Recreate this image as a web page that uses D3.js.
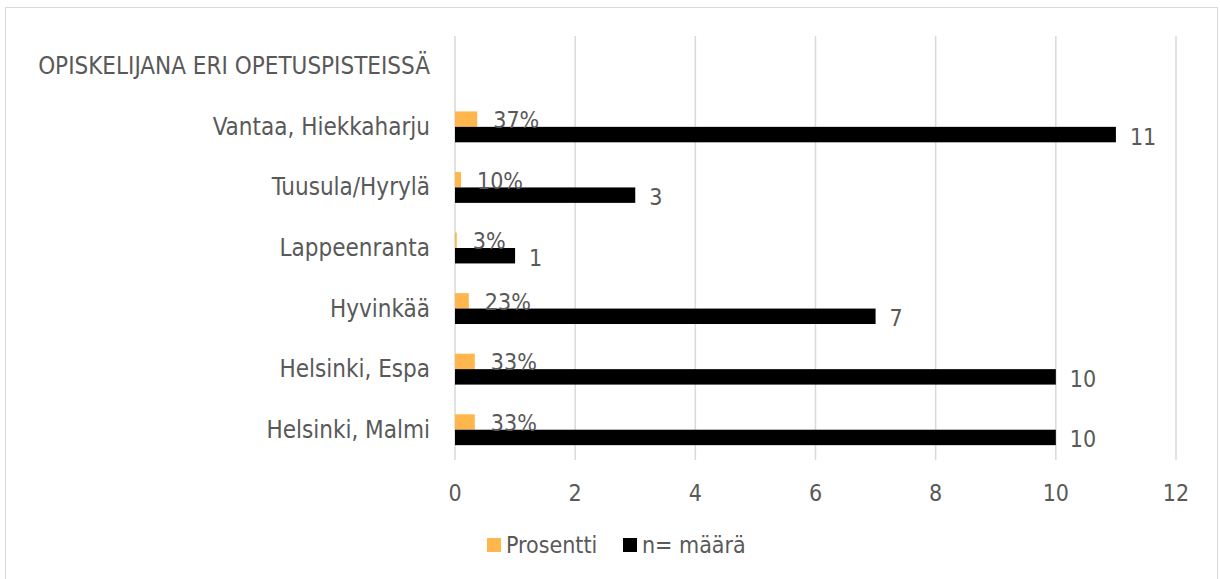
<!DOCTYPE html>
<html>
<head>
<meta charset="utf-8">
<script src="https://cdn.jsdelivr.net/npm/d3@7"></script>
<style>
  body { margin: 0; background: #fff; }
  svg text { font-family: "DejaVu Sans Condensed", "DejaVu Sans", sans-serif; fill: #595959; }
</style>
</head>
<body>
<svg id="chart"></svg>
<script>
// Data
const categories = ["OPISKELIJANA ERI OPETUSPISTEISSÄ", "Vantaa, Hiekkaharju", "Tuusula/Hyrylä",
    "Lappeenranta", "Hyvinkää", "Helsinki, Espa", "Helsinki, Malmi"];
const prosentti = [null, 0.37, 0.10, 0.03, 0.23, 0.33, 0.33];
const maara = [null, 11, 3, 1, 7, 10, 10];
const xTicks = [0, 2, 4, 6, 8, 10, 12];
const seriesNames = ["Prosentti", "n= määrä"];
const colors = ["#ffb74d", "#000000"];

const W = 1220, H = 579;
const svg = d3.select("#chart").attr("width", W).attr("height", H);

// outer frame
svg.append("rect")
    .attr("x", 5.5).attr("y", 7.5)
    .attr("width", 1212).attr("height", 600)
    .attr("fill", "none").attr("stroke", "#d9d9d9");

const x = d3.scaleLinear().domain([0, 12]).range([455, 1176]);
const y = d3.scaleBand().domain(categories).range([36, 460])
    .paddingInner(0.49).paddingOuter(0.245);
const ySub = d3.scaleBand().domain(seriesNames).range([0, y.bandwidth()]);

// gridlines
svg.append("g").selectAll("line")
    .data(xTicks)
    .join("line")
    .attr("x1", d => x(d)).attr("x2", d => x(d))
    .attr("y1", 36).attr("y2", 460)
    .attr("stroke", "#d9d9d9").attr("stroke-width", 1.5);

// x tick labels
svg.append("g").selectAll("text")
    .data(xTicks)
    .join("text")
    .attr("x", d => x(d)).attr("y", 501)
    .attr("text-anchor", "middle")
    .style("font-size", "23px")
    .text(d => d);

// category labels
svg.append("g").selectAll("text")
    .data(categories)
    .join("text")
    .attr("x", 430)
    .attr("y", d => y(d) + y.bandwidth() / 2 + 8)
    .attr("text-anchor", "end")
    .style("font-size", "24px")
    .text(d => d);

const rows = categories.map((c, i) => ({ cat: c, p: prosentti[i], n: maara[i] }))
    .filter(d => d.n !== null);

// orange bars (Prosentti)
svg.append("g").selectAll("rect")
    .data(rows)
    .join("rect")
    .attr("x", x(0))
    .attr("y", d => y(d.cat) + ySub("Prosentti"))
    .attr("width", d => x(d.p) - x(0))
    .attr("height", ySub.bandwidth())
    .attr("fill", colors[0]);

// black bars (n)
svg.append("g").selectAll("rect")
    .data(rows)
    .join("rect")
    .attr("x", x(0))
    .attr("y", d => y(d.cat) + ySub("n= määrä"))
    .attr("width", d => x(d.n) - x(0))
    .attr("height", ySub.bandwidth())
    .attr("fill", colors[1]);

// percent labels
svg.append("g").selectAll("text")
    .data(rows)
    .join("text")
    .attr("x", d => x(d.p) + 16)
    .attr("y", d => y(d.cat) + ySub("Prosentti") + ySub.bandwidth() / 2 + 9)
    .style("font-size", "23px")
    .text(d => Math.round(d.p * 100) + "%");

// n labels
svg.append("g").selectAll("text")
    .data(rows)
    .join("text")
    .attr("x", d => x(d.n) + 14)
    .attr("y", d => y(d.cat) + ySub("n= määrä") + ySub.bandwidth() / 2 + 10)
    .style("font-size", "23px")
    .text(d => d.n);

// legend
const legend = svg.append("g");
const legendX = [487, 623];
seriesNames.forEach((s, i) => {
    legend.append("rect")
        .attr("x", legendX[i]).attr("y", 538)
        .attr("width", 14).attr("height", 14)
        .attr("fill", colors[i]);
    legend.append("text")
        .attr("x", legendX[i] + 19).attr("y", 553)
        .style("font-size", "23px")
        .text(s);
});
</script>
</body>
</html>
